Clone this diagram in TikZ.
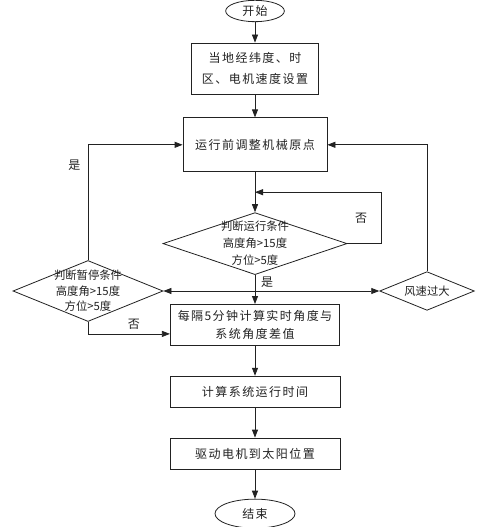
\documentclass[tikz,border=0pt]{standalone}
\usepackage{fontspec}
\usepackage{tikz}
\usetikzlibrary{arrows.meta,positioning,shapes.geometric,calc}
\setmainfont{Noto Sans CJK SC}
\newfontfamily\boxfont[LetterSpace=12]{Noto Sans CJK SC}
\newfontfamily\condfont{Noto Sans CJK SC}
\definecolor{ink}{HTML}{222222}
\tikzset{box/.style={draw=ink,line width=0.6pt,fill=white,align=center,
  inner sep=1pt,font=\boxfont\fontsize{9}{15.5}\selectfont,text=ink},
  cond/.style={diamond,draw=ink,line width=0.6pt,aspect=3,inner sep=-8pt,
  align=center,font=\condfont\fontsize{8.5}{12.75}\selectfont,text=ink},
  term/.style={ellipse,draw=ink,line width=0.6pt,inner sep=0pt,
  font=\boxfont\fontsize{9}{11}\selectfont,text=ink},
  lbl/.style={font=\fontsize{9}{11}\selectfont,text=ink},
  arrow/.style={-{Triangle[length=6pt,width=4.5pt]},line width=0.6pt,draw=ink}}
\begin{document}
\begin{tikzpicture}[x=0.75pt,y=-0.75pt]
\useasboundingbox[fill=white] (0,0) rectangle (480,527);
% main chain
\node[term,minimum width=44pt,minimum height=16pt] (start) at (255,11) {开始};
\node[box,minimum width=95pt,minimum height=38.25pt,below=15.4pt of start] (set) {当地经纬度、时\\区、电机速度设置};
\node[box,minimum width=108pt,minimum height=40.5pt,below=17.25pt of set] (adjust) {运行前调整机械原点};
\node[cond,minimum width=138pt,minimum height=46.5pt,below=30pt of adjust] (judge) {判断运行条件\\高度角>15度\\方位>5度};
\node[box,minimum width=127pt,minimum height=30.75pt,below=21.75pt of judge,
  font=\boxfont\fontsize{9}{14}\selectfont] (calc) {每隔5分钟计算实时角度与\\系统角度差值};
\node[box,minimum width=127.5pt,minimum height=23.25pt,below=22.5pt of calc] (time) {计算系统运行时间};
\node[box,minimum width=127.5pt,minimum height=23.25pt,below=22.5pt of time] (drive) {驱动电机到太阳位置};
\node[term,minimum width=60pt,minimum height=21.75pt,below=22pt of drive] (end) {结束};
% side conditions
\node[cond,minimum width=112.5pt,minimum height=45.75pt,
  font=\condfont\fontsize{8.5}{11.5}\selectfont] (pause) at (88,291) {判断暂停条件\\高度角>15度\\方位>5度};
\node[cond,minimum width=71pt,minimum height=29pt] (wind) at (427,291) {风速过大};
\coordinate (loopin) at ($(adjust.south)!0.5!(judge.north)$);
\coordinate (branch) at (judge.south |- pause.east);
\coordinate (calcin) at ([yshift=-6.75pt]calc.west);
% connectors
\draw[arrow] (start)--(set);
\draw[arrow] (set)--(adjust);
\draw[arrow] (adjust)--(judge);
\draw[arrow] (judge.east)--++(34,0) |- node[lbl,pos=0.25,left=7pt]{否} (loopin);
\draw[arrow] (judge)--node[lbl,pos=0.25,right=1pt]{是} (calc);
\draw[arrow] (branch)--(pause.east);
\draw[arrow] (branch)--(wind.west);
\draw[arrow] (pause.north) |- node[lbl,pos=0.41,left=2pt]{是} (adjust.west);
\draw[arrow] (pause.south) |- node[lbl,pos=0.78,above=0pt]{否} (calcin);
\draw[arrow] (wind.north) |- (adjust.east);
\draw[arrow] (calc)--(time);
\draw[arrow] (time)--(drive);
\draw[arrow] (drive)--(end);
\end{tikzpicture}
\end{document}
